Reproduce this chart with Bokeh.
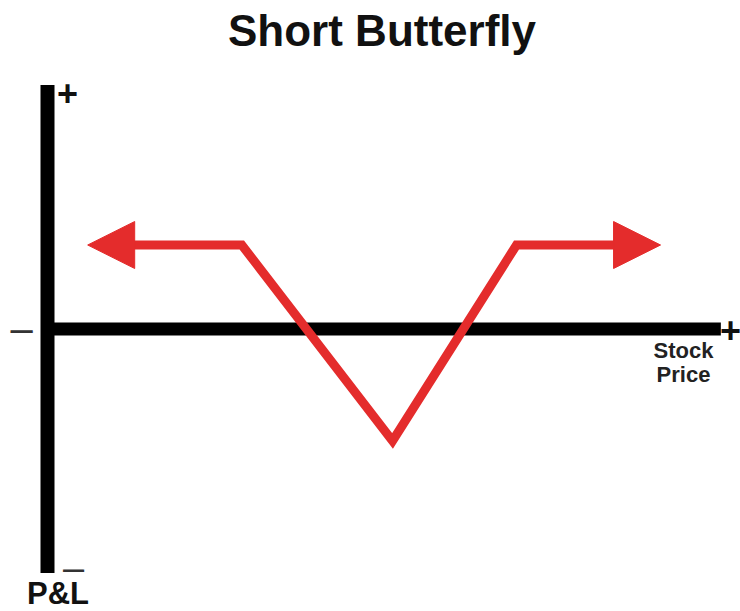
from bokeh.plotting import figure
from bokeh.models import Range1d, Label, Arrow, NormalHead
from bokeh.embed import file_html
from bokeh.resources import INLINE

# ---- data (stock price units on x, P&L units on y) ----
title_text = "Short Butterfly"
stock_price = [6, 29, 51.5, 70, 91.5]      # left arrow tip, lower strike, middle strike, upper strike, right arrow tip
pnl = [2.1, 2.1, -2.8, 2.1, 2.1]
x_axis_span = [0, 100.5]
y_axis_span = [-6.1, 6.1]
x_axis_label = ["Stock", "Price"]
y_axis_label = "P&L"
plus_sign = "+"
minus_sign = "\u2013"

# ---- layout / style ----
W, H = 740, 611
X_PX = 6.7          # pixels per stock unit
Y_PX = 40.0         # pixels per P&L unit
X0 = 47.0           # pixel position of x = 0 from left of canvas
Y0 = 328.5          # pixel position of y = 0 from top of canvas
RED = "#e42c2c"
HEAD_PX = 47
FONT = "Liberation Sans"

p = figure(width=W, height=H,
           x_range=Range1d(-X0 / X_PX, (W - X0) / X_PX),
           y_range=Range1d(-(H - Y0) / Y_PX, Y0 / Y_PX),
           output_backend="svg", toolbar_location=None,
           min_border=0, x_axis_location=None, y_axis_location=None,
           outline_line_color=None, background_fill_color="white",
           border_fill_color="white")
p.grid.visible = False

# axes as thick bars
p.line(x=x_axis_span, y=[0, 0], line_width=13, line_color="black", line_cap="butt")
p.line(x=[0, 0], y=y_axis_span, line_width=14, line_color="black", line_cap="butt")

# payoff line (ends at arrow-head bases)
head_len = (HEAD_PX - 4) / X_PX
xs = list(stock_price)
xs[0] = stock_price[0] + head_len
xs[-1] = stock_price[-1] - head_len
p.line(x=xs, y=pnl, line_width=9, line_color=RED, line_join="miter")

for i_from, i_to in [(1, 0), (3, 4)]:
    p.add_layout(Arrow(x_start=stock_price[i_from], y_start=pnl[i_from],
                       x_end=stock_price[i_to], y_end=pnl[i_to],
                       line_alpha=0,
                       end=NormalHead(size=HEAD_PX, fill_color=RED,
                                      line_color=RED, line_width=1)))

def px_x(px):
    return (px - X0) / X_PX

def px_y(py):
    return (Y0 - py) / Y_PX

def lab(cx, cy, t, size, bold=True, color="#111111"):
    p.add_layout(Label(x=px_x(cx), y=px_y(cy), text=t, text_font=FONT,
                       text_font_size=f"{size}px",
                       text_font_style="bold" if bold else "normal",
                       text_align="center", text_baseline="middle",
                       text_color=color))

lab(381.5, 30, title_text, 44)
lab(67, 92, plus_sign, 36)
lab(730, 329, plus_sign, 36)
lab(21, 327, minus_sign, 40, bold=False, color="#333333")
lab(73, 567, minus_sign, 38, bold=False, color="#333333")
lab(683, 350, x_axis_label[0], 22, color="#222222")
lab(683, 374, x_axis_label[1], 22, color="#222222")
lab(57.5, 593, y_axis_label, 31)

open("out.html", "w").write(file_html(p, INLINE))
